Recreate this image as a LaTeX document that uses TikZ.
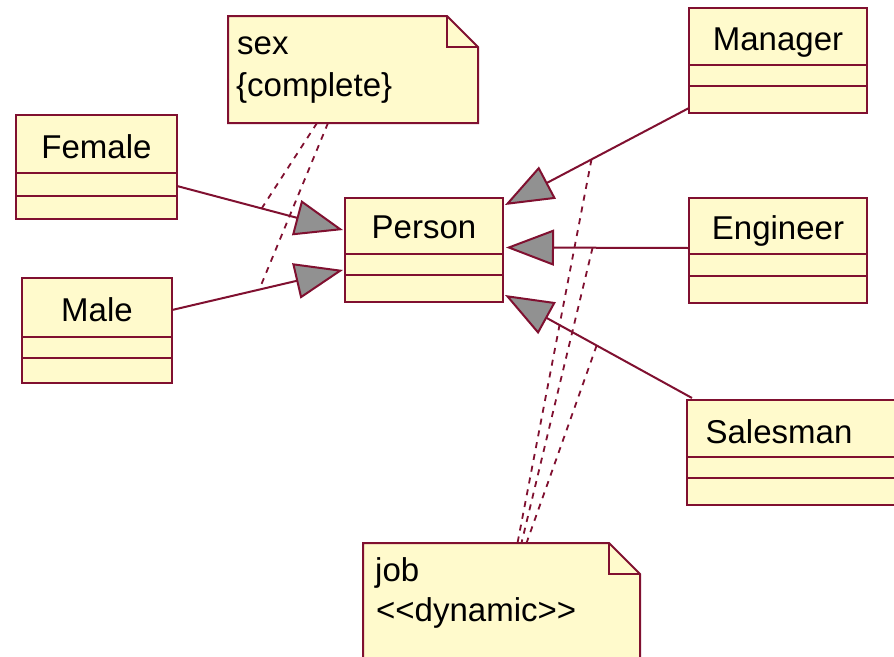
\documentclass[tikz,border=0pt]{standalone}
\usepackage{fontspec}
\setmainfont{Liberation Sans}
\usetikzlibrary{arrows.meta,calc}
\definecolor{umlline}{RGB}{128,16,48}
\definecolor{umlfill}{RGB}{255,250,204}
\definecolor{umlgray}{RGB}{145,145,145}
\pgfdeclarelayer{background}
\pgfsetlayers{background,main}

% two compartment separators of a class box, given their depth below the top edge
\newcommand\compartments[3]{%
  \draw[compline] ($(#1.north west)+(0,#2)$) -- ($(#1.north east)+(0,#2)$)
                  ($(#1.north west)+(0,#3)$) -- ($(#1.north east)+(0,#3)$);}
% dog-eared note outline around an (invisible) node, fold size #2
\newcommand\noteoutline[2]{%
  \draw[notebox] (#1.north west) -- ($(#1.north east)+(-#2,0)$) -- ($(#1.north east)+(0,#2)$)
     -- (#1.south east) -- (#1.south west) -- cycle;
  \draw[notebox, fill=none] ($(#1.north east)+(-#2,0)$) -- ($(#1.north east)+(-#2,#2)$)
     -- ($(#1.north east)+(0,#2)$);}

\begin{document}
\begin{tikzpicture}[x=1pt,y=-1pt,
  classbox/.style={draw=umlline, fill=umlfill, line width=2pt, inner sep=0pt, outer sep=0pt},
  compline/.style={draw=umlline, line width=2pt},
  classname/.style={anchor=base, font=\fontsize{33}{40}\selectfont, text=black, inner sep=0pt},
  noteanchor/.style={draw=none, fill=none, inner sep=0pt, outer sep=0pt},
  notetext/.style={anchor=base west, font=\fontsize{33}{40}\selectfont, text=black, inner sep=0pt},
  notebox/.style={draw=umlline, fill=umlfill, line width=2pt, line join=miter},
  gen/.style={draw=umlline, line width=2pt, -{Triangle[length=48pt,width=36pt,fill=umlgray]}},
  constraint/.style={draw=umlline, line width=1.8pt, dash pattern=on 6pt off 6pt},
]
\clip (0,0) rectangle (894,656);
\begin{pgfonlayer}{background}
  \fill[white] (0,0) rectangle (894,656);
\end{pgfonlayer}

% ---- classes ----
\node[classbox, minimum width=161pt, minimum height=104pt] (female) at (96.5,167) {};
\compartments{female}{58}{81}
\node[classname] (female-name) at ($(female.north)+(0,43)$) {Female};

\node[classbox, minimum width=150pt, minimum height=105pt] (male) at (97,330.5) {};
\compartments{male}{59}{80}
\node[classname] (male-name) at ($(male.north)+(0,43)$) {Male};

\node[classbox, minimum width=158pt, minimum height=104pt] (person) at (424,250) {};
\compartments{person}{56}{77}
\node[classname] (person-name) at ($(person.north)+(0,40)$) {Person};

\node[classbox, minimum width=178pt, minimum height=105pt] (manager) at (778,60.5) {};
\compartments{manager}{57}{78}
\node[classname] (manager-name) at ($(manager.north)+(0,42)$) {Manager};

\node[classbox, minimum width=178pt, minimum height=105pt] (engineer) at (778,250.5) {};
\compartments{engineer}{56}{78}
\node[classname] (engineer-name) at ($(engineer.north)+(0,41)$) {Engineer};

\node[classbox, minimum width=210pt, minimum height=105pt] (salesman) at (792,452.5) {};
\compartments{salesman}{57}{78}
\node[classname] (salesman-name) at ($(salesman.north west)+(92,43)$) {Salesman};

% ---- notes ----
\node[noteanchor, minimum width=250pt, minimum height=107pt] (sexnote) at (353,69.5) {};
\noteoutline{sexnote}{31}
\node[notetext] (sexnote-l1) at ($(sexnote.north west)+(9,38)$) {sex};
\node[notetext] (sexnote-l2) at ($(sexnote.north west)+(8,80)$) {\{complete\}};

\node[noteanchor, minimum width=277pt, minimum height=137pt] (jobnote) at (501.5,611.5) {};
\noteoutline{jobnote}{31}
\node[notetext] (jobnote-l1) at ($(jobnote.north west)+(12,38)$) {job};
\node[notetext] (jobnote-l2) at ($(jobnote.north west)+(13,78)$) {<{}<dynamic>{}>};

% ---- generalizations ----
\draw[gen] ($(female.east)+(0,19)$) -- coordinate[pos=0.51] (fem-mid) ($(person.west)+(-2,-20)$);
\draw[gen] ($(male.east)+(0,-20.5)$) -- coordinate[pos=0.51] (male-mid) ($(person.west)+(-2,20)$);
\draw[gen] ($(manager.west)+(0,47.5)$) -- coordinate[pos=0.53] (mgr-mid) ($(person.north east)+(2,7)$);
\draw[gen] ($(engineer.west)+(0,-2.5)$) -- coordinate[pos=0.527] (eng-mid) ($(person.east)+(3,-2.5)$);
\draw[gen] ($(salesman.north west)+(5,-2)$) -- coordinate[pos=0.51] (sal-mid) ($(person.south east)+(2,-7)$);

% ---- constraint links to the notes ----
\begin{pgfonlayer}{background}
  \draw[constraint] ($(sexnote.south)+(-36,0)$) -- (fem-mid);
  \draw[constraint] ($(sexnote.south)+(-25,0)$) -- (male-mid);
  \draw[constraint] (mgr-mid) -- ($(jobnote.north)+(16,0)$);
  \draw[constraint] (eng-mid) -- ($(jobnote.north)+(20,0)$);
  \draw[constraint] (sal-mid) -- ($(jobnote.north)+(25,0)$);
\end{pgfonlayer}
\end{tikzpicture}
\end{document}
